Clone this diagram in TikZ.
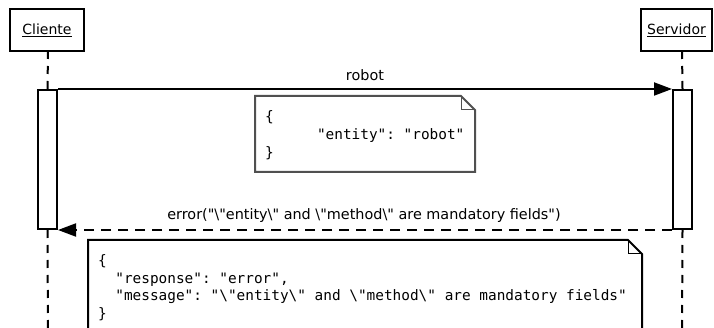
\documentclass[tikz,border=0pt]{standalone}
\usepackage{fontspec}
\setmainfont{DejaVu Sans}[Ligatures=TeXOff]
\setmonofont{DejaVu Sans Mono}
\usetikzlibrary{arrows.meta}
\newcommand\bsl{\symbol{92}}
\begin{document}
\begin{tikzpicture}[x=1pt,y=-1pt, line width=2pt,
  actor/.style={draw, fill=white, minimum height=42pt, inner sep=0pt, font=\fontsize{14}{17}\selectfont},
  actbar/.style={draw, fill=white, minimum width=19pt, minimum height=139pt, inner sep=0pt},
  life/.style={dash pattern=on 8pt off 7pt},
  lbl/.style={font=\fontsize{14.4}{17}\selectfont, inner sep=0pt, anchor=base},
  code/.style={font=\ttfamily\fontsize{14.4}{17}\selectfont, inner sep=0pt, anchor=mid west},
  msg/.style={-{Triangle[length=18pt, width=13pt]}},
  ret/.style={-{Triangle[length=18pt, width=13pt]}, dash pattern=on 10pt off 7pt},
  notebox/.style={fill=white, line join=miter},
]
\useasboundingbox (0,0) rectangle (714,328);
\clip (0,0) rectangle (714,328);

% actors
\node[actor, minimum width=74pt] (cli) at (47,30) {\underline{Cliente}};
\node[actor, minimum width=71pt] (srv) at (676.5,30) {\underline{Servidor}};

% lifeline coordinates
\coordinate (clitop) at (48,51);
\coordinate (srvtop) at (682,51);
\coordinate (clibot) at (48,340);
\coordinate (srvbot) at (682,340);

% activation bars
\node[actbar, anchor=north] (cliact) at (47.5,89) {};
\node[actbar, anchor=north] (srvact) at (682.5,89) {};

% lifelines
\draw[life] (clitop) -- (cliact.north);
\draw[life] (srvtop) -- (srvact.north);
\draw[life] (cliact.south) -- (clibot);
\draw[life] (srvact.south) -- (srvbot);

% message 1
\draw[msg] (cliact.north east) -- (srvact.north west);
\node[lbl] (m1) at (365,81) {robot};

% note 1
\draw[notebox, draw={rgb,255:red,80;green,80;blue,80}]
  (255,96) -- (461,96) -- (475,110) -- (475,172) -- (255,172) -- cycle;
\draw[line width=1pt, draw={rgb,255:red,80;green,80;blue,80}] (461,96) -- (461,110) -- (475,110);
\node[code] (n1a) at (264,119) {\{};
\node[code] (n1b) at (264,137) {\ \ \ \ \ \ "entity": "robot"};
\node[code] (n1c) at (264,155) {\}};

% message 2
\draw[ret] (srvact.south west) -- (cliact.south east);
\node[lbl] (m2) at (364,220) {error("\bsl"entity\bsl" and \bsl"method\bsl" are mandatory fields")};

% note 2
\draw[notebox]
  (88,240) -- (628,240) -- (642,254) -- (642,340) -- (88,340) -- cycle;
\draw[line width=1pt] (628,240) -- (628,254) -- (642,254);
\node[code] (n2a) at (97,263) {\{};
\node[code] (n2b) at (97,281) {\ \ "response": "error",};
\node[code] (n2c) at (97,298) {\ \ "message": "\textbackslash"entity\textbackslash" and \textbackslash"method\textbackslash" are mandatory fields"};
\node[code] (n2d) at (97,316) {\}};
\end{tikzpicture}
\end{document}
